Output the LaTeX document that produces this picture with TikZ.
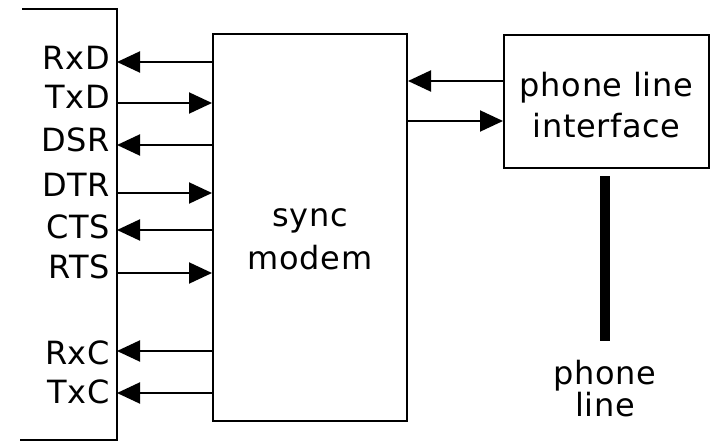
\documentclass[tikz,border=0pt]{standalone}
\usepackage{fontspec}
\setmainfont[LetterSpace=2]{DejaVu Sans}
\usetikzlibrary{arrows.meta}
\newcommand{\lblfont}{\fontsize{32}{41}\selectfont}
\tikzset{
  box/.style={draw, line width=2pt, inner sep=0pt},
  frame/.style={line width=2pt},
  sig/.style={line width=2pt, >={Triangle[length=23pt, width=21pt]}},
  todte/.style={<-},
  tomodem/.style={->},
  lbl/.style={font=\lblfont, inner sep=0pt, align=center},
  wire/.style={line width=10pt},
}

\begin{document}
\begin{tikzpicture}[x=1pt, y=-1pt]
  \useasboundingbox (0,0) rectangle (712,441);

  % ============ DTE side (open bracket) ============
  \coordinate (dtetop) at (117,9);
  \coordinate (dtebot) at (117,440);
  \draw[frame] (22,9) -- (dtetop) -- (dtebot) -- (20,440);

  % ============ MODEM ============
  \node[box, minimum width=194pt, minimum height=387pt] (modem) at (310,227.5) {};
  \node[lbl, anchor=south, font=\fontsize{32}{43}\selectfont] (modemtxt) at (310,270) {sync\\modem};

  % ============ PHONE LINE INTERFACE ============
  \node[box, minimum width=205pt, minimum height=133pt] (iface) at (606.5,101.5) {};
  \node[lbl, anchor=south] (ifacetxt) at (606.5,138) {phone line\\interface};

  % signals: name / label baseline / arrow y / direction
  \foreach \n/\b/\y/\d in {RxD/70/62/todte, TxD/109/103/tomodem,
                           DSR/152/145/todte, DTR/196/193/tomodem,
                           CTS/238/230/todte, RTS/278/273/tomodem,
                           RxC/364/351/todte, TxC/403/393/todte} {
    \node[lbl, anchor=base east] (\n) at (110,\b) {\n};
    \coordinate (\n-p) at (dtetop |- 0,\y);
    \draw[sig, \d] (\n-p) -- (modem.west |- \n-p);
  }

  % ============ modem <-> interface ============
  \coordinate (rxline) at ([yshift=20.5pt]iface.west);
  \coordinate (txline) at ([yshift=-19.5pt]iface.west);
  \draw[sig, ->] (rxline) -- (rxline -| modem.east);
  \draw[sig, <-] (txline) -- (txline -| modem.east);

  % ============ phone line ============
  \node[lbl, anchor=south, font=\fontsize{32}{32}\selectfont] (pline) at (605,417) {phone\\line};
  \draw[wire] ([yshift=-7pt]iface.south -| pline) -- ([yshift=18.5pt]pline.north);
\end{tikzpicture}
\end{document}
